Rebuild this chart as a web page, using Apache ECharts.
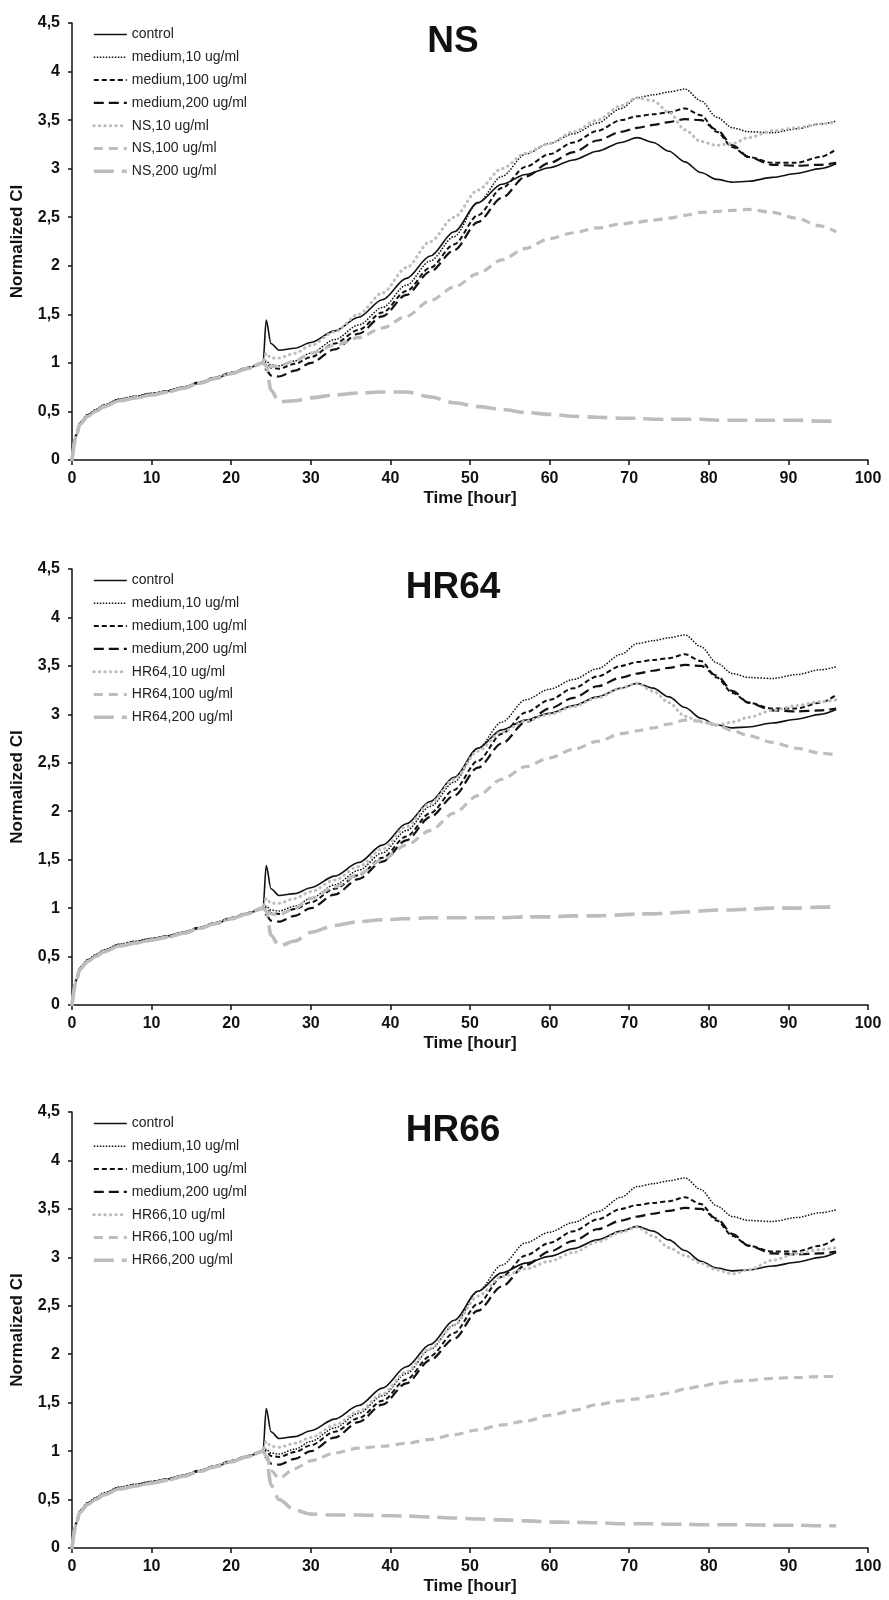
<!DOCTYPE html>
<html>
<head>
<meta charset="utf-8">
<script src="https://cdn.jsdelivr.net/npm/echarts@6/dist/echarts.min.js"></script>
<style>
html, body { margin: 0; padding: 0; background: #fff; }
#main { width: 889px; height: 1600px; }
</style>
</head>
<body>
<div id="main"></div>
<script>
// time points [hour]
var hours = [0, 0.5, 1, 2, 3, 4, 6, 8, 10, 12, 14, 16, 18, 20, 22, 24, 24.4, 25, 26, 28, 30, 33, 36, 39, 42, 45,
	48, 51, 54, 57, 60, 63, 66, 69, 71, 73, 75, 77, 79, 81, 83, 85, 88, 91, 94, 96];

// reference curves, same in all three panels
var control = [0, 0.25, 0.38, 0.46, 0.51, 0.56, 0.62, 0.65, 0.68, 0.71, 0.75, 0.79, 0.84, 0.89, 0.94, 1.0,
	1.44, 1.2, 1.13, 1.15, 1.21, 1.33, 1.47, 1.65, 1.87, 2.1, 2.35, 2.65, 2.84, 2.94, 3.01, 3.09, 3.18, 3.27, 3.32,
	3.27, 3.18, 3.07, 2.96, 2.89, 2.86, 2.87, 2.91, 2.95, 3.0, 3.05];
var medium10 = [0, 0.26, 0.39, 0.47, 0.52, 0.57, 0.63, 0.66, 0.69, 0.71, 0.75, 0.8, 0.85, 0.9, 0.95, 1.0,
	1.02, 0.98, 0.97, 1.02, 1.1, 1.24, 1.39, 1.57, 1.8, 2.05, 2.3, 2.65, 2.92, 3.15, 3.26, 3.36, 3.47, 3.62, 3.73,
	3.76, 3.79, 3.82, 3.7, 3.53, 3.42, 3.38, 3.37, 3.41, 3.46, 3.49];
var medium100 = [0, 0.25, 0.38, 0.46, 0.51, 0.56, 0.62, 0.65, 0.68, 0.71, 0.75, 0.8, 0.85, 0.9, 0.95, 1.0,
	1.0, 0.95, 0.94, 0.99, 1.06, 1.2, 1.34, 1.52, 1.74, 1.98, 2.22, 2.52, 2.8, 3.02, 3.15, 3.27, 3.39, 3.5, 3.54,
	3.56, 3.58, 3.62, 3.55, 3.38, 3.22, 3.12, 3.06, 3.06, 3.12, 3.2];
var medium200 = [0, 0.25, 0.38, 0.46, 0.51, 0.56, 0.62, 0.65, 0.68, 0.71, 0.75, 0.79, 0.84, 0.89, 0.94, 1.0,
	0.93, 0.87, 0.86, 0.92, 1.0, 1.14, 1.3, 1.48, 1.7, 1.94, 2.16, 2.45, 2.7, 2.92, 3.06, 3.17, 3.29, 3.38, 3.42,
	3.45, 3.48, 3.51, 3.5, 3.4, 3.24, 3.12, 3.04, 3.03, 3.04, 3.06];

// NS
var ns10 = [0, 0.24, 0.37, 0.45, 0.5, 0.55, 0.61, 0.64, 0.67, 0.7, 0.74, 0.79, 0.84, 0.89, 0.94, 1.0,
	1.1, 1.05, 1.05, 1.1, 1.18, 1.32, 1.5, 1.72, 1.98, 2.25, 2.5, 2.78, 3.0, 3.16, 3.26, 3.38, 3.5, 3.65, 3.73,
	3.7, 3.58, 3.4, 3.28, 3.24, 3.26, 3.32, 3.39, 3.42, 3.46, 3.48];
var ns100 = [0, 0.24, 0.37, 0.45, 0.5, 0.55, 0.61, 0.64, 0.67, 0.7, 0.74, 0.79, 0.84, 0.89, 0.94, 1.0,
	1.0, 0.96, 0.97, 1.02, 1.1, 1.18, 1.26, 1.36, 1.48, 1.64, 1.78, 1.92, 2.06, 2.18, 2.28, 2.34, 2.39, 2.43, 2.45,
	2.47, 2.49, 2.52, 2.55, 2.56, 2.57, 2.58, 2.55, 2.49, 2.41, 2.35];
var ns200 = [0, 0.24, 0.37, 0.45, 0.5, 0.55, 0.61, 0.64, 0.67, 0.7, 0.74, 0.79, 0.84, 0.89, 0.94, 1.0,
	0.97, 0.72, 0.6, 0.61, 0.64, 0.67, 0.69, 0.7, 0.7, 0.65, 0.59, 0.55, 0.52, 0.49, 0.47, 0.45, 0.44, 0.43, 0.43,
	0.42, 0.42, 0.42, 0.42, 0.41, 0.41, 0.41, 0.41, 0.41, 0.4, 0.4];

// HR64
var hr64_10 = [0, 0.24, 0.37, 0.45, 0.5, 0.55, 0.61, 0.64, 0.67, 0.7, 0.74, 0.79, 0.84, 0.89, 0.94, 1.0,
	1.1, 1.05, 1.05, 1.1, 1.17, 1.29, 1.43, 1.61, 1.84, 2.08, 2.33, 2.62, 2.82, 2.93, 3.0, 3.08, 3.17, 3.27, 3.32,
	3.24, 3.12, 2.98, 2.92, 2.89, 2.92, 2.97, 3.04, 3.09, 3.13, 3.15];
var hr64_100 = [0, 0.24, 0.37, 0.45, 0.5, 0.55, 0.61, 0.64, 0.67, 0.7, 0.74, 0.79, 0.84, 0.89, 0.94, 1.0,
	1.0, 0.94, 0.93, 1.0, 1.1, 1.22, 1.35, 1.5, 1.65, 1.8, 1.98, 2.16, 2.33, 2.46, 2.55, 2.64, 2.72, 2.8, 2.83,
	2.86, 2.9, 2.94, 2.93, 2.89, 2.83, 2.78, 2.71, 2.65, 2.6, 2.58];
var hr64_200 = [0, 0.24, 0.37, 0.45, 0.5, 0.55, 0.61, 0.64, 0.67, 0.7, 0.74, 0.79, 0.84, 0.89, 0.94, 1.0,
	0.97, 0.72, 0.61, 0.66, 0.75, 0.82, 0.86, 0.88, 0.89, 0.9, 0.9, 0.9, 0.9, 0.91, 0.91, 0.92, 0.92, 0.93, 0.94,
	0.94, 0.95, 0.96, 0.97, 0.98, 0.98, 0.99, 1.0, 1.0, 1.01, 1.01];

// HR66
var hr66_10 = [0, 0.24, 0.37, 0.45, 0.5, 0.55, 0.61, 0.64, 0.67, 0.7, 0.74, 0.79, 0.84, 0.89, 0.94, 1.0,
	1.1, 1.05, 1.04, 1.08, 1.14, 1.27, 1.41, 1.59, 1.82, 2.06, 2.3, 2.6, 2.8, 2.88, 2.96, 3.05, 3.16, 3.26, 3.31,
	3.22, 3.1, 3.02, 2.94, 2.87, 2.83, 2.87, 2.97, 3.04, 3.08, 3.1];
var hr66_100 = [0, 0.24, 0.37, 0.45, 0.5, 0.55, 0.61, 0.64, 0.67, 0.7, 0.74, 0.79, 0.84, 0.89, 0.94, 1.0,
	0.98, 0.8, 0.72, 0.82, 0.9, 0.98, 1.03, 1.05, 1.08, 1.12, 1.17, 1.22, 1.27, 1.31, 1.37, 1.42, 1.48, 1.52, 1.54,
	1.57, 1.6, 1.64, 1.67, 1.7, 1.72, 1.73, 1.75, 1.76, 1.77, 1.77];
var hr66_200 = [0, 0.24, 0.37, 0.45, 0.5, 0.55, 0.61, 0.64, 0.67, 0.7, 0.74, 0.79, 0.84, 0.89, 0.94, 1.0,
	0.95, 0.65, 0.5, 0.39, 0.35, 0.34, 0.34, 0.335, 0.33, 0.32, 0.31, 0.3, 0.29, 0.28, 0.27, 0.265, 0.26, 0.25, 0.25,
	0.25, 0.245, 0.245, 0.24, 0.24, 0.24, 0.24, 0.235, 0.235, 0.23, 0.23];

var baseNames = ["control", "medium,10 ug/ml", "medium,100 ug/ml", "medium,200 ug/ml"];
var doseNames = [",10 ug/ml", ",100 ug/ml", ",200 ug/ml"];

var panels = [
	{ label: "NS", top: 23, height: 437, curves: [ns10, ns100, ns200] },
	{ label: "HR64", top: 569, height: 436, curves: [hr64_10, hr64_100, hr64_200] },
	{ label: "HR66", top: 1112, height: 436, curves: [hr66_10, hr66_100, hr66_200] }
];

var FONT = "'Liberation Sans', Arial, Helvetica, sans-serif";
var BLACK = "#111";
var GREY = "#bdbdbd";

// line looks, in legend order
var looks = [
	{ color: BLACK, width: 1.6, type: "solid" },
	{ color: BLACK, width: 1.5, type: [1.5, 1.5] },
	{ color: BLACK, width: 2, type: [5, 3] },
	{ color: BLACK, width: 2.2, type: [10, 5] },
	{ color: GREY, width: 3, type: [0.5, 5], cap: "round" },
	{ color: GREY, width: 3.2, type: [9, 6] },
	{ color: GREY, width: 3.6, type: [20, 8] }
];

function pairs(vals) {
	return hours.map(function(t, i) {
		return [t, vals[i]];
	});
}

function commaLabel(v) {
	return String(v).replace(".", ",");
}

var grids = [], xAxes = [], yAxes = [], legends = [], titles = [], series = [];

panels.forEach(function(p, k) {
	grids.push({ left: 72, width: 796, top: p.top, height: p.height });
	titles.push({
		text: p.label, left: 448, top: p.top - 5, textAlign: "center",
		textStyle: { fontFamily: FONT, fontSize: 37, fontWeight: "bold", color: BLACK }
	});
	xAxes.push({
		type: "value", gridIndex: k, min: 0, max: 100, interval: 10,
		name: "Time [hour]", nameLocation: "middle", nameGap: 30,
		nameTextStyle: { fontFamily: FONT, fontSize: 17, fontWeight: "bold", color: BLACK },
		axisLine: { lineStyle: { color: BLACK, width: 1.5 } },
		axisTick: { length: 5, lineStyle: { color: BLACK, width: 1.5 } },
		axisLabel: { fontFamily: FONT, fontSize: 16, fontWeight: "bold", color: BLACK, margin: 11 },
		splitLine: { show: false }
	});
	yAxes.push({
		type: "value", gridIndex: k, min: 0, max: 4.5, interval: 0.5,
		name: "Normalized CI", nameLocation: "middle", nameGap: 46, nameRotate: 90,
		nameTextStyle: { fontFamily: FONT, fontSize: 17, fontWeight: "bold", color: BLACK },
		axisLine: { show: true, lineStyle: { color: BLACK, width: 1.5 } },
		axisTick: { show: true, length: 4, lineStyle: { color: BLACK, width: 1.5 } },
		axisLabel: { fontFamily: FONT, fontSize: 16, fontWeight: "bold", color: BLACK, margin: 12, formatter: commaLabel },
		splitLine: { show: false }
	});

	var names = baseNames.concat(doseNames.map(function(d) { return p.label + d; }));
	var curves = [control, medium10, medium100, medium200].concat(p.curves);
	names.forEach(function(nm, i) {
		var lk = looks[i];
		series.push({
			type: "line", name: nm, xAxisIndex: k, yAxisIndex: k,
			data: pairs(curves[i]), showSymbol: false, symbol: "none",
			smooth: 0.3, smoothMonotone: "x", silent: true, animation: false,
			lineStyle: { color: lk.color, width: lk.width, type: lk.type, cap: lk.cap || "butt" },
			itemStyle: { color: lk.color }
		});
	});
	legends.push({
		data: names.map(function(nm, i) {
			var lk = looks[i];
			return {
				name: nm,
				lineStyle: { color: lk.color, width: lk.width, type: lk.type, cap: lk.cap || "butt" }
			};
		}),
		orient: "vertical", left: 92, top: p.top + 4.5, padding: 0,
		itemWidth: 33, itemHeight: 14, itemGap: 8.8, selectedMode: false,
		itemStyle: { opacity: 0 },
		lineStyle: { width: "inherit" },
		textStyle: { fontFamily: FONT, fontSize: 14, color: "#222", lineHeight: 14 }
	});
});

var mychart = echarts.init(document.getElementById("main"));
mychart.setOption({
	backgroundColor: "#fff",
	animation: false,
	title: titles,
	grid: grids,
	xAxis: xAxes,
	yAxis: yAxes,
	legend: legends,
	series: series
});
</script>
</body>
</html>
